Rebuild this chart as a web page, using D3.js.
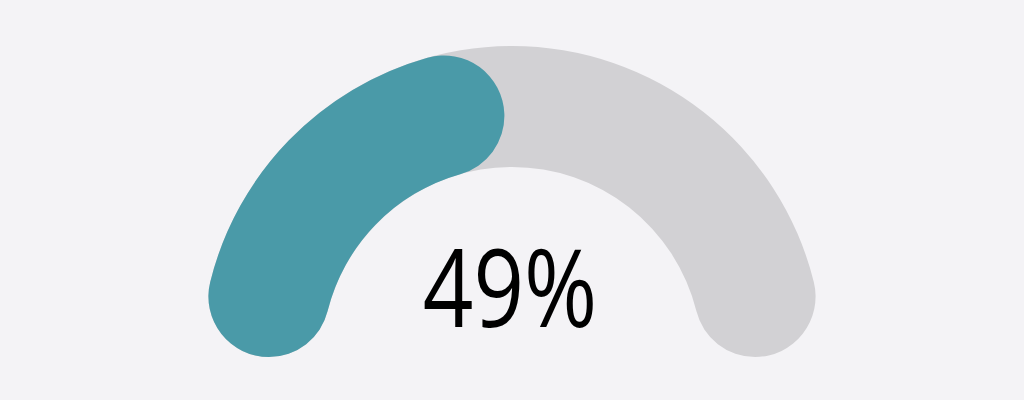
<!DOCTYPE html>
<html>
<head>
<meta charset="utf-8">
<script src="https://cdn.jsdelivr.net/npm/d3@7"></script>
<style>
  html, body { margin: 0; padding: 0; background: #f4f3f6; }
  svg { display: block; }
</style>
</head>
<body>
<svg id="chart" width="1024" height="400"></svg>
<script>
// gauge data
const gaugeDomain = [0, 100];
const gaugeValue = [49];
const gaugeLabel = ["49%"];

const width = 1024, height = 400;
const cx = 512, cy = 357;
const outerR = 311, innerR = 190;

const svg = d3.select("#chart");

// value -> angle, half circle from left to right
const angle = d3.scaleLinear().domain(gaugeDomain).range([-Math.PI / 2, Math.PI / 2]);

const arc = d3.arc()
    .innerRadius(innerR)
    .outerRadius(outerR)
    .cornerRadius((outerR - innerR) / 2);

const g = svg.append("g").attr("transform", `translate(${cx},${cy})`);

// track
g.append("path")
    .attr("d", arc({ startAngle: angle(gaugeDomain[0]), endAngle: angle(gaugeDomain[1]) }))
    .attr("fill", "#d2d1d4");

// value
g.selectAll("path.value").data(gaugeValue).enter().append("path")
    .attr("class", "value")
    .attr("d", d => arc({ startAngle: angle(gaugeDomain[0]), endAngle: angle(d) }))
    .attr("fill", "#4a9aa8");

// label
svg.append("g").attr("transform", `translate(${cx - 2},327) scale(0.82,1)`)
  .append("text")
    .attr("text-anchor", "middle")
    .attr("font-family", "'Open Sans', sans-serif")
    .attr("font-size", 108)
    .attr("fill", "#000")
    .text(gaugeLabel[0]);
</script>
</body>
</html>
